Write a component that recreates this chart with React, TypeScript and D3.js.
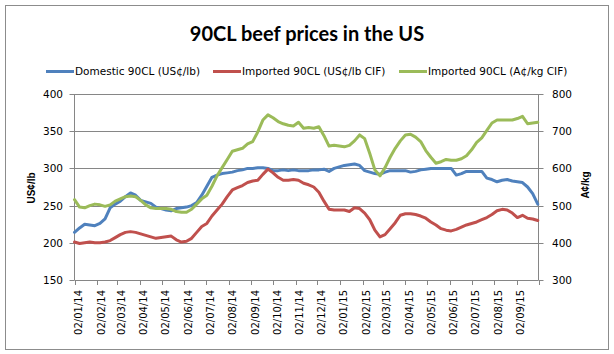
import React, { useRef, useEffect } from 'react';
import * as d3 from 'd3';

// monthly tick labels on the date axis (dd/mm/yy)
const tickLabels = [
  '02/01/14', '02/02/14', '02/03/14', '02/04/14', '02/05/14', '02/06/14', '02/07/14',
  '02/08/14', '02/09/14', '02/10/14', '02/11/14', '02/12/14', '02/01/15', '02/02/15',
  '02/03/15', '02/04/15', '02/05/15', '02/06/15', '02/07/15', '02/08/15', '02/09/15',
];

// weekly prices, first week 02/01/14
const domestic = [
  214, 220, 225, 224, 223, 226, 232, 247, 252, 256, 262, 267, 264, 257, 255, 253,
  248, 246, 244, 243, 246, 247, 248, 250, 254, 264, 276, 288, 291, 293, 294, 295,
  297, 298, 300, 300, 301, 301, 300, 297, 297, 298, 297, 298, 297, 297, 297, 298,
  298, 299, 296, 300, 302, 304, 305, 306, 304, 297, 295, 293, 292, 295, 297, 297,
  297, 297, 295, 296, 298, 299, 300, 300, 300, 300, 300, 291, 293, 296, 296, 296,
  296, 287, 285, 282, 284, 285, 283, 282, 281, 275, 266, 252,
];

const importedUS = [
  201, 199, 200, 201, 200, 200, 201, 203, 207, 211, 214, 215, 214, 212, 210, 208,
  206, 207, 208, 209, 204, 201, 202, 206, 214, 222, 226, 236, 244, 252, 262, 271,
  274, 277, 281, 283, 284, 292, 299, 294, 288, 284, 284, 285, 284, 280, 278, 275,
  268, 256, 245, 244, 244, 244, 242, 247, 246, 240, 231, 217, 208, 211, 219, 227,
  237, 239, 239, 238, 236, 233, 228, 224, 219, 217, 216, 218, 221, 224, 226, 228,
  231, 234, 238, 243, 245, 244, 240, 234, 237, 233, 232, 230,
];

// A¢/kg, right axis
const importedAU = [
  516, 496, 494, 500, 504, 502, 498, 502, 512, 518, 524, 526, 524, 514, 502, 494,
  492, 492, 492, 490, 484, 482, 482, 490, 504, 518, 528, 552, 580, 602, 624, 646,
  650, 654, 666, 672, 698, 730, 744, 736, 726, 720, 716, 714, 724, 708, 710, 708,
  712, 688, 660, 662, 660, 658, 662, 674, 690, 680, 640, 596, 580, 602, 630, 654,
  674, 690, 692, 684, 672, 648, 630, 614, 618, 624, 622, 622, 626, 634, 650, 670,
  682, 702, 722, 730, 730, 730, 730, 734, 740, 720, 722, 724,
];

const leftTicks = [150, 200, 250, 300, 350, 400];
const rightTicks = [300, 400, 500, 600, 700, 800];

const seriesNames = ['Domestic 90CL (US\u00a2/lb)', 'Imported 90CL (US\u00a2/lb CIF)', 'Imported 90CL (A\u00a2/kg CIF)'];
const colors = ['#4f81bd', '#c0504d', '#9bbb59'];

const App = () => {
  const ref = useRef<SVGSVGElement>(null);

  useEffect(() => {
    const svg = d3.select(ref.current);
    svg.selectAll('*').remove();

    const width = 614;
    const height = 354;
    const left = 74.5;
    const right = 538.5;
    const top = 94;
    const bottom = 280;
    const font = 'DejaVu Sans, Verdana, sans-serif';
    const axisColor = '#868686';

    const parse = d3.timeParse('%d/%m/%y');
    const tickDates = tickLabels.map(d => parse(d) as Date);
    const start = tickDates[0];
    const end = d3.timeMonth.offset(tickDates[tickDates.length - 1], 1);
    const dates = domestic.map((_, i) => d3.timeDay.offset(start, 7 * i));

    const x = d3.scaleTime().domain([start, end]).range([left, right]);
    const yL = d3.scaleLinear().domain([150, 400]).range([bottom, top]);
    const yR = d3.scaleLinear().domain([300, 800]).range([bottom, top]);

    // frame
    svg.append('rect')
      .attr('x', 5.5).attr('y', 5.5)
      .attr('width', width - 11).attr('height', height - 10)
      .attr('fill', '#fff').attr('stroke', '#8c8c8c');

    // title
    svg.append('text')
      .attr('x', 307).attr('y', 41)
      .attr('text-anchor', 'middle')
      .attr('font-family', 'Lato, sans-serif')
      .attr('font-weight', 'bold')
      .attr('font-size', 20)
      .text('90CL beef prices in the US');

    // legend
    const legendX = [46, 213, 399];
    const lg = svg.append('g');
    seriesNames.forEach((name, i) => {
      lg.append('line')
        .attr('x1', legendX[i]).attr('x2', legendX[i] + 28)
        .attr('y1', 71.5).attr('y2', 71.5)
        .attr('stroke', colors[i]).attr('stroke-width', 3);
      lg.append('text')
        .attr('x', legendX[i] + 29).attr('y', 71.5)
        .attr('dy', '0.35em')
        .attr('font-family', font).attr('font-size', 10.5)
        .attr('fill', '#000')
        .text(name);
    });

    // gridlines
    svg.append('g')
      .selectAll('line')
      .data(leftTicks.slice(1))
      .enter()
      .append('line')
      .attr('x1', left).attr('x2', right)
      .attr('y1', d => Math.round(yL(d)) + 0.5)
      .attr('y2', d => Math.round(yL(d)) + 0.5)
      .attr('stroke', axisColor);

    // left axis
    const la = svg.append('g');
    la.append('line')
      .attr('x1', left).attr('x2', left).attr('y1', top).attr('y2', bottom)
      .attr('stroke', axisColor);
    leftTicks.forEach(t => {
      const yy = Math.round(yL(t)) + 0.5;
      la.append('line').attr('x1', left - 5).attr('x2', left).attr('y1', yy).attr('y2', yy).attr('stroke', axisColor);
      la.append('text')
        .attr('x', 63).attr('y', yy).attr('dy', '0.35em')
        .attr('text-anchor', 'end')
        .attr('font-family', font).attr('font-size', 10.5)
        .text(t);
    });

    // right axis
    const ra = svg.append('g');
    ra.append('line')
      .attr('x1', right).attr('x2', right).attr('y1', top).attr('y2', bottom)
      .attr('stroke', axisColor);
    rightTicks.forEach(t => {
      const yy = Math.round(yR(t)) + 0.5;
      ra.append('line').attr('x1', right).attr('x2', right + 5).attr('y1', yy).attr('y2', yy).attr('stroke', axisColor);
      ra.append('text')
        .attr('x', 552).attr('y', yy).attr('dy', '0.35em')
        .attr('font-family', font).attr('font-size', 10.5)
        .text(t);
    });

    // bottom axis
    const ba = svg.append('g');
    ba.append('line')
      .attr('x1', left).attr('x2', right).attr('y1', bottom + 0.5).attr('y2', bottom + 0.5)
      .attr('stroke', axisColor);
    tickDates.concat([end]).forEach(d => {
      const xx = Math.round(x(d)) + 0.5;
      ba.append('line').attr('x1', xx).attr('x2', xx).attr('y1', bottom).attr('y2', bottom + 5).attr('stroke', axisColor);
    });
    tickDates.forEach((d, i) => {
      ba.append('text')
        .attr('transform', `translate(${x(d) + 7.5},${bottom + 10}) rotate(-90)`)
        .attr('text-anchor', 'end')
        .attr('font-family', font).attr('font-size', 10)
        .text(tickLabels[i]);
    });

    // axis titles
    svg.append('text')
      .attr('transform', 'translate(35,188) rotate(-90)')
      .attr('text-anchor', 'middle')
      .attr('font-family', 'Liberation Sans, Arial, sans-serif')
      .attr('font-weight', 'bold').attr('font-size', 10)
      .text('US\u00a2/lb');
    svg.append('text')
      .attr('transform', 'translate(589,185) rotate(-90)')
      .attr('text-anchor', 'middle')
      .attr('font-family', 'Liberation Sans, Arial, sans-serif')
      .attr('font-weight', 'bold').attr('font-size', 10)
      .text('A\u00a2/kg');

    // lines
    const lineL = d3.line<number>()
      .x((_, i) => x(dates[i]))
      .y(d => yL(d));
    const lineR = d3.line<number>()
      .x((_, i) => x(dates[i]))
      .y(d => yR(d));

    const lines = svg.append('g')
      .attr('fill', 'none')
      .attr('stroke-width', 3)
      .attr('stroke-linejoin', 'round')
      .attr('stroke-linecap', 'round');
    lines.append('path').attr('d', lineL(domestic)).attr('stroke', colors[0]);
    lines.append('path').attr('d', lineL(importedUS)).attr('stroke', colors[1]);
    lines.append('path').attr('d', lineR(importedAU)).attr('stroke', colors[2]);
  }, []);

  return (
    <svg
      ref={ref}
      width={614}
      height={354}
      style={{ position: 'absolute', left: 0, top: 0 }}
    ></svg>
  );
};

export default App;
